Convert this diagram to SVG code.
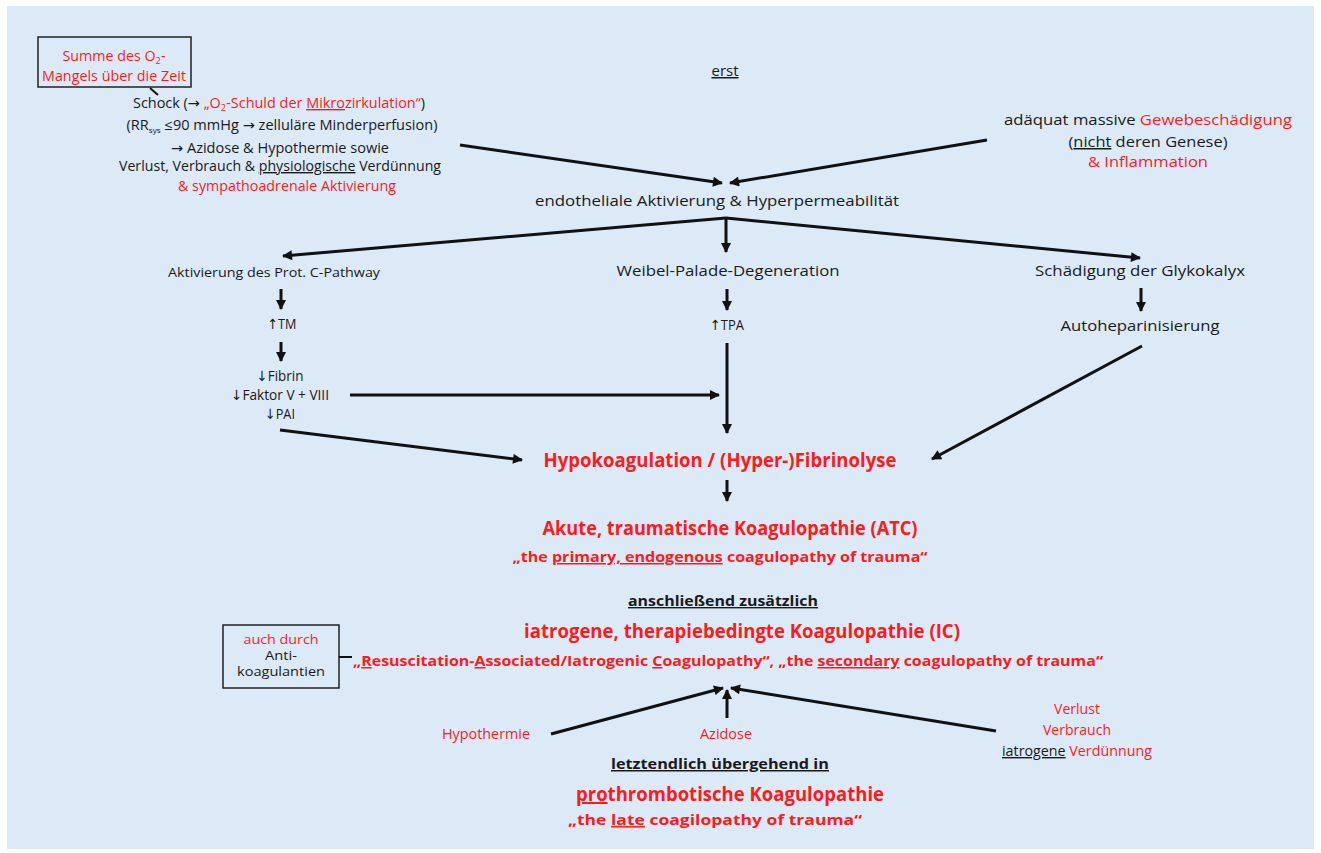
<svg xmlns="http://www.w3.org/2000/svg" width="1321" height="853" viewBox="0 0 1321 853">
<defs>
<style>
text{font-family:"Open Sans","Liberation Sans",sans-serif;fill:#1a1a1a;text-anchor:middle}
.r{fill:#ff1a1a}
.k{fill:#1a1a1a}
.b{font-weight:bold}
.u{text-decoration:underline}
.n{font-size:14px}
.s{font-size:13px}
.m{font-size:15px}
.big{font-size:20px;font-weight:bold}
.mid{font-size:15px;font-weight:bold}
.ar{font-family:"DejaVu Sans",sans-serif}
.box{fill:#dce9f7;stroke:#222;stroke-width:1.5}
.c line{stroke:#111;stroke-width:3;marker-end:url(#ah)}
.c line.p{marker-end:none;stroke-width:2}
</style>
<marker id="ah" viewBox="0 0 10 10" refX="9" refY="5" markerUnits="userSpaceOnUse" markerWidth="11" markerHeight="10" orient="auto">
<path d="M0,0 L10,5 L0,10 z" fill="#111"/>
</marker>
</defs>
<rect x="0" y="0" width="1321" height="853" fill="#ffffff"/>
<rect x="7" y="6" width="1307" height="843" fill="#dce9f7"/>

<g id="summe">
<rect class="box" x="38" y="37" width="153" height="50"/>
<text class="n r" x="114" y="61" textLength="103" lengthAdjust="spacingAndGlyphs">Summe des O<tspan font-size="9" dy="3">2</tspan><tspan dy="-3">-</tspan></text>
<text class="n r" x="114" y="81" textLength="144" lengthAdjust="spacingAndGlyphs">Mangels über die Zeit</text>
</g>

<g id="schock">
<text class="n" x="279" y="108" textLength="292" lengthAdjust="spacingAndGlyphs">Schock (<tspan class="ar">→</tspan> <tspan class="r">„O<tspan font-size="9" dy="3">2</tspan><tspan dy="-3">-Schuld der </tspan><tspan class="u">Mikro</tspan>zirkulation“</tspan>)</text>
<text class="n" x="282" y="130" textLength="311" lengthAdjust="spacingAndGlyphs">(RR<tspan font-size="8" dy="3">sys</tspan><tspan dy="-3"> ≤90 mmHg </tspan><tspan class="ar">→</tspan> zelluläre Minderperfusion)</text>
<text class="n" x="280" y="153" textLength="218" lengthAdjust="spacingAndGlyphs"><tspan class="ar">→</tspan> Azidose &amp; Hypothermie sowie</text>
<text class="n" x="280" y="171" textLength="322" lengthAdjust="spacingAndGlyphs">Verlust, Verbrauch &amp; <tspan class="u">physiologische</tspan> Verdünnung</text>
<text class="n r" x="287" y="191" textLength="218" lengthAdjust="spacingAndGlyphs">&amp; sympathoadrenale Aktivierung</text>
</g>

<g id="erst">
<text class="m u" x="725" y="76">erst</text>
</g>

<g id="gewebe">
<text class="m" x="1148" y="125" textLength="288" lengthAdjust="spacingAndGlyphs">adäquat massive <tspan class="r">Gewebeschädigung</tspan></text>
<text class="m" x="1148" y="147" textLength="159" lengthAdjust="spacingAndGlyphs">(<tspan class="u">nicht</tspan> deren Genese)</text>
<text class="m r" x="1148" y="167" textLength="120" lengthAdjust="spacingAndGlyphs">&amp; Inflammation</text>
</g>

<g id="endothel">
<text class="m" x="717" y="206" textLength="364" lengthAdjust="spacingAndGlyphs">endotheliale Aktivierung &amp; Hyperpermeabilität</text>
</g>

<g id="protc">
<text font-size="13" x="274" y="277" textLength="212" lengthAdjust="spacingAndGlyphs">Aktivierung des Prot. C-Pathway</text>
</g>
<g id="weibel">
<text class="m" x="728" y="276" textLength="223" lengthAdjust="spacingAndGlyphs">Weibel-Palade-Degeneration</text>
</g>
<g id="glyko">
<text class="m" x="1140" y="276" textLength="210" lengthAdjust="spacingAndGlyphs">Schädigung der Glykokalyx</text>
</g>

<g id="tm">
<text class="n" x="282" y="329" textLength="29" lengthAdjust="spacingAndGlyphs"><tspan class="ar">↑</tspan>TM</text>
</g>
<g id="tpa">
<text class="n" x="727" y="330" textLength="34" lengthAdjust="spacingAndGlyphs"><tspan class="ar">↑</tspan>TPA</text>
</g>
<g id="auto">
<text class="m" x="1140" y="331" textLength="159" lengthAdjust="spacingAndGlyphs">Autoheparinisierung</text>
</g>

<g id="fibrin">
<text class="n" x="280" y="381" textLength="47" lengthAdjust="spacingAndGlyphs"><tspan class="ar">↓</tspan>Fibrin</text>
<text class="n" x="280" y="400" textLength="98" lengthAdjust="spacingAndGlyphs"><tspan class="ar">↓</tspan>Faktor V + VIII</text>
<text class="n" x="280" y="419" textLength="30" lengthAdjust="spacingAndGlyphs"><tspan class="ar">↓</tspan>PAI</text>
</g>

<g id="hypo">
<text class="r big" x="720" y="467" textLength="353" lengthAdjust="spacingAndGlyphs">Hypokoagulation / (Hyper-)Fibrinolyse</text>
</g>

<g id="atc">
<text class="r big" x="730" y="535" textLength="375" lengthAdjust="spacingAndGlyphs">Akute, traumatische Koagulopathie (ATC)</text>
<text class="r mid" x="720" y="562" textLength="415" lengthAdjust="spacingAndGlyphs">„the <tspan class="u">primary, endogenous</tspan> coagulopathy of trauma“</text>
</g>

<g id="anschl">
<text class="b u" font-size="14" x="723" y="606" textLength="190" lengthAdjust="spacingAndGlyphs">anschließend zusätzlich</text>
</g>

<g id="ic">
<text class="r big" x="742" y="638" textLength="436" lengthAdjust="spacingAndGlyphs">iatrogene, therapiebedingte Koagulopathie (IC)</text>
<text class="r mid" x="728" y="666" textLength="750" lengthAdjust="spacingAndGlyphs">„<tspan class="u">R</tspan>esuscitation-<tspan class="u">A</tspan>ssociated/Iatrogenic <tspan class="u">C</tspan>oagulopathy“, „the <tspan class="u">secondary</tspan> coagulopathy of trauma“</text>
</g>

<g id="anti">
<rect class="box" x="223" y="625" width="116" height="63"/>
<text class="s r" x="281" y="644" textLength="75" lengthAdjust="spacingAndGlyphs">auch durch</text>
<text class="s" x="281" y="660" textLength="32" lengthAdjust="spacingAndGlyphs">Anti-</text>
<text class="s" x="281" y="676" textLength="88" lengthAdjust="spacingAndGlyphs">koagulantien</text>
</g>

<g id="hypothermie">
<text class="n r" x="486" y="739" textLength="88" lengthAdjust="spacingAndGlyphs">Hypothermie</text>
</g>
<g id="azidose">
<text class="n r" x="726" y="739" textLength="52" lengthAdjust="spacingAndGlyphs">Azidose</text>
</g>
<g id="verlust">
<text class="n r" x="1077" y="714" textLength="46" lengthAdjust="spacingAndGlyphs">Verlust</text>
<text class="n r" x="1077" y="735" textLength="68" lengthAdjust="spacingAndGlyphs">Verbrauch</text>
<text class="n r" x="1077" y="756" textLength="150" lengthAdjust="spacingAndGlyphs"><tspan class="k u">iatrogene</tspan> Verdünnung</text>
</g>

<g id="letzt">
<text class="b u" font-size="15" x="720" y="769" textLength="218" lengthAdjust="spacingAndGlyphs">letztendlich übergehend in</text>
</g>
<g id="prothr">
<text class="r big" x="730" y="801" textLength="308" lengthAdjust="spacingAndGlyphs"><tspan class="u">pro</tspan>thrombotische Koagulopathie</text>
<text class="r mid" x="715" y="825" textLength="294" lengthAdjust="spacingAndGlyphs">„the <tspan class="u">late</tspan> coagilopathy of trauma“</text>
</g>

<g id="connectors" class="c">
<line class="p" x1="150" y1="88" x2="158" y2="95"/>
<line x1="460" y1="145" x2="722" y2="183"/>
<line x1="987" y1="140" x2="730" y2="183"/>
<line x1="726" y1="218" x2="283" y2="256"/>
<line x1="726" y1="218" x2="726" y2="252"/>
<line x1="726" y1="218" x2="1140" y2="258"/>
<line x1="281" y1="289" x2="281" y2="309"/>
<line x1="281" y1="342" x2="281" y2="361"/>
<line x1="727" y1="289" x2="727" y2="310"/>
<line x1="1141" y1="288" x2="1141" y2="311"/>
<line x1="727" y1="343" x2="727" y2="433"/>
<line x1="350" y1="395" x2="719" y2="395"/>
<line x1="280" y1="430" x2="522" y2="460"/>
<line x1="1142" y1="346" x2="932" y2="459"/>
<line x1="727" y1="480" x2="727" y2="501"/>
<line class="p" x1="339" y1="657" x2="352" y2="657"/>
<line x1="551" y1="734" x2="723" y2="688"/>
<line x1="727" y1="718" x2="727" y2="690"/>
<line x1="996" y1="731" x2="731" y2="688"/>
</g>
</svg>
